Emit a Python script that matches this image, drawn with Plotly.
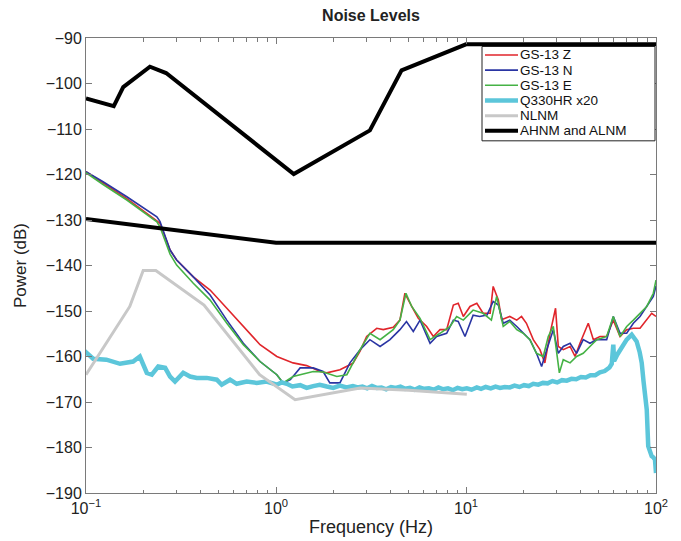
import plotly.graph_objects as go

# ---------------- data ----------------
ahnm_f = [0.1, 0.14, 0.157, 0.217, 0.264, 1.24, 3.12, 4.58, 10.0, 100.0]
ahnm_db = [-103.3, -105.0, -100.8, -96.3, -97.7, -119.9, -110.3, -97.1, -91.4, -91.4]

alnm_f = [0.1, 1.0, 100.0]
alnm_db = [-129.8, -135.0, -135.0]

nlnm_f = [0.1, 0.17, 0.2, 0.233, 0.418, 0.82, 1.26, 2.77, 5.0, 10.1]
nlnm_db = [-164.0, -149.0, -141.1, -141.1, -148.7, -164.0, -169.5, -166.9, -167.4, -168.3]

z_f = [0.1, 0.123, 0.164, 0.236, 0.245, 0.277, 0.300, 0.367, 0.450, 0.551, 0.673, 0.824,
       1.01, 1.23, 1.45, 1.71, 1.85, 2.17, 2.54, 2.77, 3.00, 3.39, 3.67, 4.14, 4.49, 4.77,
       5.18, 5.61, 6.21, 6.73, 7.30, 7.91, 8.58, 9.10, 9.68, 10.5, 11.4, 12.3, 13.4, 13.9,
       14.8, 15.4, 17.0, 18.5, 19.6, 20.8, 22.6, 24.5, 26.0, 27.7, 29.6, 30.6, 32.5, 35.3,
       37.5, 39.8, 44.0, 46.8, 50.7, 55.0, 59.6, 64.7, 70.1, 76.0, 82.4, 89.4, 94.9, 100.0]
z_db = [-119.4, -121.8, -125.3, -130.2, -130.7, -136.6, -138.8, -142.5, -145.4, -149.4, -153.4, -157.4,
        -160.0, -161.4, -162.0, -163.3, -163.6, -162.9, -161.5, -158.8, -155.6, -153.8, -154.1, -153.6, -152.0, -146.1,
        -149.0, -151.6, -153.4, -155.6, -154.1, -154.1, -148.7, -148.3, -151.2, -149.0, -148.3, -150.5, -150.5, -144.6,
        -147.6, -151.9, -151.2, -152.0, -151.2, -152.7, -156.3, -158.5, -161.4, -154.9, -149.4, -157.8, -158.5, -157.8,
        -160.0, -157.1, -152.7, -156.3, -155.6, -155.6, -152.0, -155.6, -154.1, -153.8, -153.8, -152.0, -150.5, -151.2]

n_f = [0.1, 0.123, 0.164, 0.236, 0.245, 0.277, 0.300, 0.367, 0.450, 0.551, 0.673, 0.824,
       1.01, 1.09, 1.19, 1.34, 1.57, 1.77, 1.92, 2.17, 2.45, 2.77, 3.12, 3.53, 3.98, 4.49,
       4.86, 5.28, 5.73, 6.47, 7.01, 7.91, 8.58, 9.10, 9.88, 10.9, 11.8, 12.9, 13.9, 14.8,
       15.7, 17.0, 18.5, 20.0, 21.7, 23.5, 25.0, 26.6, 28.8, 30.6, 32.5, 35.3, 38.2, 41.4,
       44.9, 48.8, 55.0, 59.6, 64.7, 70.1, 76.0, 82.4, 89.4, 96.8, 100.0]
n_db = [-119.4, -121.6, -124.9, -129.3, -130.3, -136.6, -138.8, -142.5, -146.5, -152.0, -157.1, -161.1,
        -164.0, -165.8, -165.1, -162.5, -162.5, -163.3, -165.8, -165.8, -161.4, -158.5, -156.3, -157.8, -156.3, -154.1,
        -152.3, -154.5, -152.0, -157.1, -155.6, -154.9, -152.0, -152.3, -155.6, -150.9, -151.2, -150.9, -147.9, -148.7,
        -152.7, -152.0, -153.4, -154.9, -156.3, -159.3, -162.2, -158.5, -154.1, -159.3, -157.8, -157.1, -159.3, -156.3,
        -157.1, -156.3, -156.3, -151.2, -154.9, -154.9, -152.7, -151.2, -149.0, -146.8, -144.5]

e_f = [0.1, 0.123, 0.164, 0.236, 0.245, 0.277, 0.300, 0.367, 0.450, 0.551, 0.673, 0.824,
       1.01, 1.09, 1.23, 1.57, 1.77, 2.09, 2.36, 2.77, 3.12, 3.53, 4.14, 4.49, 4.83, 5.18,
       5.73, 6.47, 7.30, 8.24, 8.93, 9.68, 10.9, 12.3, 13.6, 14.5, 15.7, 17.0, 18.5, 20.0,
       21.7, 23.5, 25.5, 27.1, 28.8, 31.0, 32.5, 35.3, 38.2, 41.4, 44.9, 48.8, 55.0, 59.6,
       64.7, 70.1, 76.0, 82.4, 89.4, 96.8, 100.0]
e_db = [-119.6, -122.2, -125.6, -130.4, -131.5, -137.5, -139.9, -143.9, -147.6, -152.7, -157.4, -161.1,
        -164.0, -165.8, -164.4, -163.3, -163.4, -164.4, -164.0, -158.5, -154.9, -156.3, -154.1, -152.0, -146.1, -149.0,
        -151.6, -156.3, -154.9, -153.4, -151.2, -152.0, -149.8, -150.5, -152.0, -146.8, -153.4, -152.3, -154.1, -154.9,
        -156.3, -159.3, -160.0, -155.6, -153.4, -163.6, -160.7, -161.4, -160.0, -159.3, -157.8, -156.3, -155.6, -151.2,
        -155.6, -153.4, -152.0, -150.5, -149.0, -146.1, -143.2]

q_f = [0.1, 0.1008, 0.109, 0.128, 0.151, 0.177, 0.192, 0.209, 0.222, 0.240, 0.261, 0.277, 0.294,
       0.325, 0.353, 0.383, 0.432, 0.488, 0.518, 0.573, 0.621, 0.701, 0.791, 0.893,
       1.01, 1.07, 1.14, 1.22, 1.34, 1.45, 1.57, 1.70, 1.85, 2.0, 2.17, 2.35,
       2.54, 2.69, 2.85, 3.02, 3.20, 3.39, 3.59, 3.80, 4.03, 4.27, 4.52, 4.79, 5.07, 5.37,
       5.69, 6.03, 6.38, 6.76, 7.16, 7.59, 8.04, 8.51, 9.02, 9.55, 10.1, 10.7, 11.4, 12.0,
       12.7, 13.5, 14.3, 15.1, 16.0, 17.0, 18.0, 19.1, 20.2, 21.4, 22.6, 24.0, 25.4, 26.9,
       28.5, 30.2, 32.0, 33.9, 35.9, 38.0, 40.3, 42.7, 45.2, 47.9, 50.7, 53.7, 56.9,
       58.5, 59.6, 60.2, 62.5, 64.7, 67.5, 70.1, 74.5, 79.1, 82.0, 84.1, 86.0, 87.5,
       89.4, 91.0, 94.9, 97.0, 98.8, 100.0]
q_db = [-159.6, -159.2, -160.5, -160.7, -161.6, -161.1, -160.0, -163.6, -164.0, -162.2, -162.5, -164.4, -165.5,
        -163.6, -164.4, -164.7, -164.7, -165.1, -166.2, -165.1, -166.0, -165.5, -165.8, -165.5,
        -166.2, -165.7, -166.0, -166.6, -166.3, -166.9, -166.5, -166.2, -166.6, -166.9, -166.4, -166.8,
        -166.5, -166.8, -166.6, -167.0, -166.5, -166.9, -166.8, -167.2, -166.7, -166.9, -166.6, -167.1, -166.9, -167.3,
        -166.8, -167.1, -167.0, -167.3, -166.8, -167.2, -167.0, -167.4, -166.9, -167.2, -167.0, -167.3, -166.8, -167.1,
        -166.7, -167.0, -166.6, -166.9, -166.7, -166.8, -166.4, -166.7, -166.3, -166.5, -166.0, -166.2, -165.8, -165.9,
        -165.4, -165.7, -165.2, -165.3, -164.9, -165.0, -164.5, -164.6, -164.1, -164.1, -163.5, -163.2, -162.4,
        -161.6, -157.4, -161.0, -159.6, -158.5, -157.4, -156.3, -155.2, -156.7, -159.0, -161.4, -165.5, -169.1,
        -171.7, -179.7, -181.9, -182.2, -182.7, -185.6]

x_tick_vals = [0.1, 1, 10, 100]
x_tick_text = ["10<sup>\u22121</sup>", "10<sup>0</sup>", "10<sup>1</sup>", "10<sup>2</sup>"]
x_minor_vals = [0.2, 0.3, 0.4, 0.5, 0.6, 0.7, 0.8, 0.9, 2, 3, 4, 5, 6, 7, 8, 9,
                20, 30, 40, 50, 60, 70, 80, 90]
y_tick_vals = [-190, -180, -170, -160, -150, -140, -130, -120, -110, -100, -90]

series = [
    ("GS-13 Z", z_f, z_db, "#e0252b", 1.6),
    ("GS-13 N", n_f, n_db, "#2a35a3", 1.6),
    ("GS-13 E", e_f, e_db, "#45b245", 1.6),
    ("Q330HR x20", q_f, q_db, "#5cc6da", 4.5),
    ("NLNM", nlnm_f, nlnm_db, "#c8c8c8", 3),
    ("AHNM and ALNM", ahnm_f, ahnm_db, "black", 4),
]

# ---------------- figure ----------------
W, H = 681, 541
L, R, T, B = 86, 25, 37.5, 47.7
plot_w, plot_h = W - L - R, H - T - B


def px_x(px):
    return (px - L) / plot_w


def px_y(py):
    return (H - B - py) / plot_h


fig = go.Figure()
for name, fx, fy, col, lw in series:
    fig.add_trace(go.Scatter(x=fx, y=fy, mode="lines", name=name,
                             line=dict(color=col, width=lw), legendgroup=name))
fig.add_trace(go.Scatter(x=alnm_f, y=alnm_db, mode="lines", name="ALNM",
                         line=dict(color="black", width=4), legendgroup="AHNM and ALNM"))

# legend box drawn MATLAB-style (tight row spacing)
shapes = [dict(type="rect", xref="paper", yref="paper",
               x0=px_x(482), x1=px_x(655), y0=px_y(140.5), y1=px_y(46),
               fillcolor="white", line=dict(color="#222222", width=1), layer="above")]
annotations = []
row0, row_step = 54.5, 15.2
for i, (name, fx, fy, col, lw) in enumerate(series):
    yy = px_y(row0 + i * row_step)
    shapes.append(dict(type="line", xref="paper", yref="paper",
                       x0=px_x(485), x1=px_x(518), y0=yy, y1=yy,
                       line=dict(color=col, width=lw), layer="above"))
    annotations.append(dict(text=name, xref="paper", yref="paper",
                            x=px_x(519), y=yy, xanchor="left", yanchor="middle",
                            showarrow=False, borderpad=0,
                            font=dict(size=13.5, color="#111111",
                                      family="Liberation Sans, Arial, sans-serif")))

axis_color = "#7a7a7a"
fig.update_layout(
    width=W, height=H,
    margin=dict(l=L, r=R, t=T, b=B, autoexpand=False),
    paper_bgcolor="white", plot_bgcolor="white",
    font=dict(family="Liberation Sans, Arial, sans-serif", color="#222222", size=16),
    title=dict(text="<b>Noise Levels</b>", x=0.5, xref="paper", xanchor="center",
               y=1 - 15 / H, yref="container", yanchor="middle",
               font=dict(size=16, color="#222222")),
    showlegend=False,
    shapes=shapes,
    annotations=annotations,
    xaxis=dict(type="log", range=[-1, 2], tickmode="array",
               tickvals=x_tick_vals, ticktext=x_tick_text,
               ticks="inside", ticklen=6, tickcolor=axis_color,
               ticklabelstandoff=1, automargin=False,
               showline=True, linecolor=axis_color, linewidth=1, mirror="ticks",
               showgrid=False, zeroline=False,
               minor=dict(ticks="inside", ticklen=3.5, tickcolor=axis_color,
                          tickvals=x_minor_vals, showgrid=False),
               title=dict(text="Frequency (Hz)", font=dict(size=18), standoff=4)),
    yaxis=dict(range=[-190, -90], tickmode="array", tickvals=y_tick_vals,
               ticks="inside", ticklen=6, tickcolor=axis_color, automargin=False,
               showline=True, linecolor=axis_color, linewidth=1, mirror="ticks",
               showgrid=False, zeroline=False,
               title=dict(text="Power (dB)", font=dict(size=17), standoff=14)),
)

fig.write_html("out.html", config={"displayModeBar": False},
               post_script="document.body.style.margin='0';")
